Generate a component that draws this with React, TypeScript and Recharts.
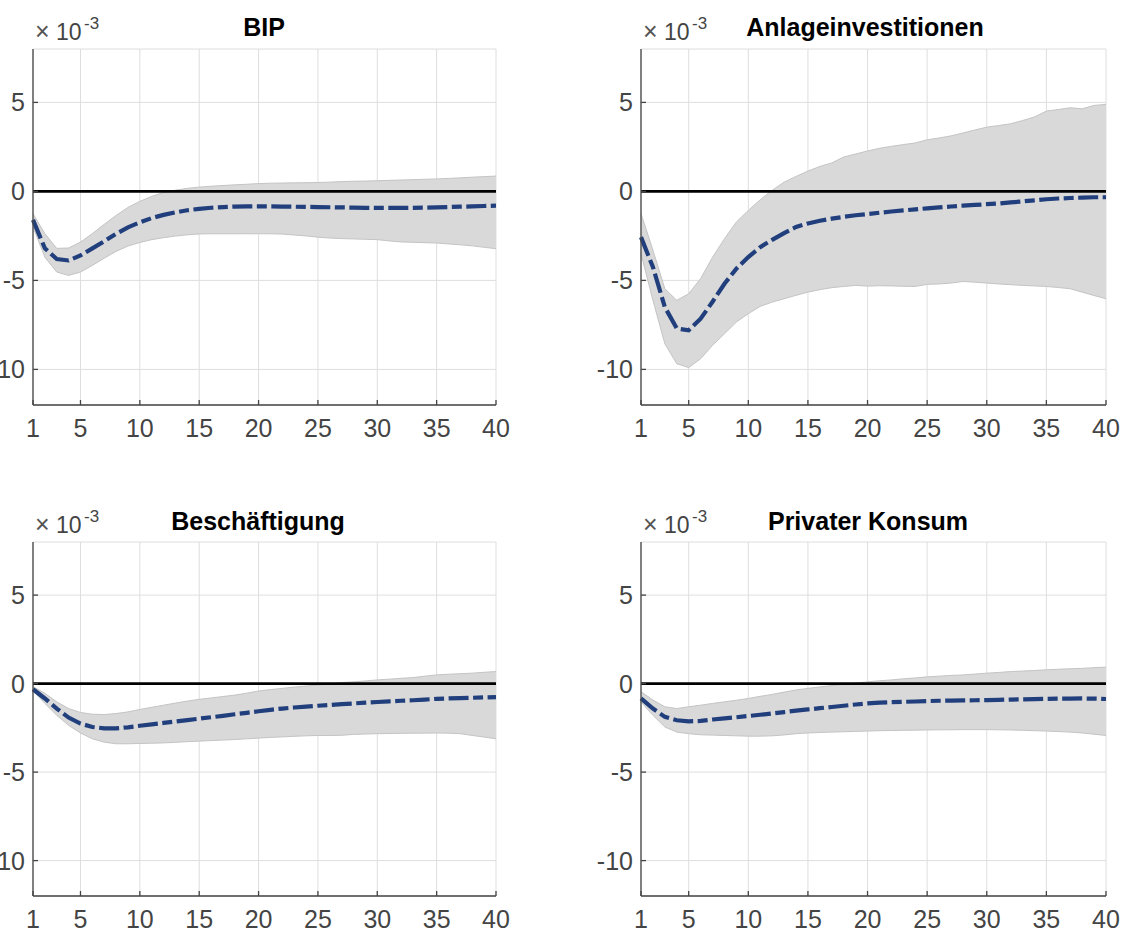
import React from "react";
import { ComposedChart, Area, Line, XAxis, YAxis, CartesianGrid, ReferenceLine } from "recharts";

// values in units of 1e-3
const periods = [
  1, 2, 3, 4, 5, 6, 7, 8, 9, 10, 11, 12, 13, 14, 15, 16, 17, 18, 19, 20,
  21, 22, 23, 24, 25, 26, 27, 28, 29, 30, 31, 32, 33, 34, 35, 36, 37, 38, 39, 40,
];
const xTicks = [1, 5, 10, 15, 20, 25, 30, 35, 40];
const yTicks = [-10, -5, 0, 5];

const bipMean = [
  -1.6, -3.2, -3.8, -3.88, -3.6, -3.2, -2.8, -2.38, -2.02, -1.74, -1.5, -1.32, -1.18, -1.06, -0.98, -0.92, -0.88, -0.85, -0.84, -0.84,
  -0.84, -0.85, -0.86, -0.87, -0.88, -0.89, -0.9, -0.91, -0.92, -0.93, -0.93, -0.93, -0.92, -0.91, -0.9, -0.88, -0.86, -0.84, -0.82, -0.8,
];
const bipHi = [
  -1.25, -2.37, -3.2, -3.18, -2.85, -2.37, -1.85, -1.35, -0.9, -0.56, -0.28, -0.06, 0.07, 0.17, 0.24, 0.29, 0.33, 0.37, 0.4, 0.44,
  0.46, 0.47, 0.48, 0.49, 0.5, 0.52, 0.55, 0.57, 0.58, 0.6, 0.62, 0.64, 0.66, 0.68, 0.7, 0.73, 0.76, 0.8, 0.83, 0.86,
];
const bipLo = [
  -2.0, -3.7, -4.53, -4.72, -4.53, -4.16, -3.75, -3.37, -3.07, -2.87, -2.71, -2.6, -2.51, -2.44, -2.39, -2.38, -2.38, -2.38, -2.38, -2.38,
  -2.38, -2.4, -2.45, -2.5, -2.57, -2.62, -2.65, -2.67, -2.69, -2.71, -2.78, -2.84, -2.86, -2.88, -2.9, -2.95, -3.0, -3.06, -3.14, -3.22,
];

const anlMean = [
  -2.57, -4.25, -6.5, -7.7, -7.8, -7.15, -6.2, -5.19, -4.34, -3.69, -3.13, -2.72, -2.34, -2.0, -1.8, -1.65, -1.53, -1.43, -1.34, -1.27,
  -1.2, -1.13, -1.07, -1.01, -0.95, -0.9, -0.85, -0.8, -0.76, -0.72, -0.68, -0.62, -0.56, -0.5, -0.44, -0.4, -0.37, -0.35, -0.33, -0.33,
];
const anlHi = [
  -1.25, -3.3, -5.47, -6.12, -5.75, -4.9, -3.7, -2.66, -1.72, -1.07, -0.47, 0.06, 0.52, 0.84, 1.14, 1.4, 1.6, 1.93, 2.1, 2.27,
  2.42, 2.53, 2.63, 2.72, 2.9, 3.0, 3.12, 3.28, 3.45, 3.61, 3.7, 3.8, 3.98, 4.18, 4.51, 4.6, 4.7, 4.64, 4.83, 4.89,
];
const anlLo = [
  -3.5, -6.12, -8.56, -9.68, -9.9, -9.4, -8.65, -8.0, -7.34, -6.87, -6.46, -6.22, -6.03, -5.84, -5.66, -5.52, -5.41, -5.34, -5.28, -5.32,
  -5.3, -5.31, -5.33, -5.34, -5.22, -5.2, -5.15, -5.06, -5.1, -5.15, -5.2, -5.24, -5.28, -5.31, -5.34, -5.4, -5.47, -5.66, -5.85, -6.03,
];

const besMean = [
  -0.32, -0.84, -1.41, -1.92, -2.26, -2.45, -2.53, -2.53, -2.47, -2.38, -2.3, -2.22, -2.14, -2.06, -1.98, -1.9, -1.82, -1.73, -1.65, -1.56,
  -1.48, -1.41, -1.35, -1.3, -1.25, -1.21, -1.16, -1.12, -1.08, -1.04, -1.0, -0.97, -0.94, -0.9, -0.86, -0.84, -0.82, -0.8, -0.78, -0.76,
];
const besHi = [
  -0.17, -0.55, -1.03, -1.41, -1.63, -1.73, -1.75, -1.69, -1.6, -1.46, -1.34, -1.22, -1.1, -0.99, -0.89, -0.81, -0.73, -0.65, -0.54, -0.42,
  -0.34, -0.27, -0.2, -0.14, -0.08, -0.02, 0.06, 0.1, 0.15, 0.21, 0.25, 0.3, 0.34, 0.42, 0.49, 0.53, 0.56, 0.59, 0.64, 0.68,
];
const besLo = [
  -0.4, -1.12, -1.79, -2.36, -2.79, -3.12, -3.31, -3.4, -3.4, -3.38, -3.37, -3.35, -3.32, -3.28, -3.25, -3.22, -3.19, -3.16, -3.12, -3.08,
  -3.04, -3.01, -2.98, -2.95, -2.93, -2.93, -2.92, -2.87, -2.85, -2.83, -2.82, -2.81, -2.8, -2.8, -2.79, -2.8, -2.83, -2.93, -3.02, -3.12,
];

const konMean = [
  -0.84, -1.41, -1.88, -2.07, -2.13, -2.11, -2.03, -1.96, -1.9, -1.83, -1.76, -1.69, -1.61, -1.53, -1.46, -1.39, -1.32, -1.25, -1.18, -1.12,
  -1.08, -1.05, -1.03, -1.01, -0.99, -0.97, -0.96, -0.95, -0.94, -0.93, -0.92, -0.9, -0.89, -0.88, -0.86, -0.85, -0.85, -0.84, -0.85, -0.87,
];
const konHi = [
  -0.46, -0.93, -1.31, -1.41, -1.31, -1.22, -1.12, -1.03, -0.94, -0.84, -0.72, -0.61, -0.48, -0.36, -0.27, -0.19, -0.11, -0.04, 0.03, 0.1,
  0.16, 0.21, 0.27, 0.32, 0.38, 0.42, 0.46, 0.49, 0.54, 0.59, 0.63, 0.68, 0.71, 0.74, 0.78, 0.81, 0.84, 0.86, 0.9, 0.93,
];
const konLo = [
  -1.03, -1.79, -2.45, -2.74, -2.83, -2.89, -2.91, -2.93, -2.95, -2.97, -2.97, -2.95, -2.9, -2.83, -2.79, -2.76, -2.74, -2.72, -2.7, -2.68,
  -2.66, -2.65, -2.64, -2.63, -2.62, -2.61, -2.61, -2.6, -2.6, -2.6, -2.61, -2.62, -2.64, -2.66, -2.68, -2.71, -2.74, -2.79, -2.86, -2.93,
];

const AXIS = "#444444";
const FONT = "'Liberation Sans', Arial, Helvetica, sans-serif";
const Y_W = 60;
const TOP_PAD = 10;
const X_H = 45;

function buildRows(mean: number[], lo: number[], hi: number[]) {
  return periods.map((t, i) => ({ t, mean: mean[i], band: [lo[i], hi[i]] }));
}

type PanelProps = {
  title: string;
  titleX: number;
  titleY: number;
  mean: number[];
  lo: number[];
  hi: number[];
  left: number; // plot area left
  top: number; // plot area top
  plotW: number;
  plotH: number;
};

function Panel({ title, titleX, titleY, mean, lo, hi, left, top, plotW, plotH }: PanelProps) {
  const rows = buildRows(mean, lo, hi);
  const axisY = TOP_PAD + plotH;
  const width = plotW + Y_W + 20;
  const height = TOP_PAD + plotH + X_H;

  const xTick = (p: any) => (
    <g>
      <line x1={p.x} x2={p.x} y1={axisY} y2={axisY - 5} stroke={AXIS} strokeWidth={1.3} />
      <text x={p.x} y={axisY + 31.5} textAnchor="middle" fontSize={25} fill={AXIS}>
        {p.payload.value}
      </text>
    </g>
  );
  const yTick = (p: any) => (
    <g>
      <line x1={Y_W} x2={Y_W + 5} y1={p.y} y2={p.y} stroke={AXIS} strokeWidth={1.3} />
      <text x={Y_W - 8} y={p.y} dy="0.36em" textAnchor="end" fontSize={25} fill={AXIS}>
        {p.payload.value}
      </text>
    </g>
  );

  return (
    <>
      <div style={{ position: "absolute", left: left - Y_W, top: top - TOP_PAD }}>
        <ComposedChart
          width={width}
          height={height}
          data={rows}
          margin={{ top: TOP_PAD, right: 20, bottom: 0, left: 0 }}
        >
          <CartesianGrid stroke="#dedede" strokeWidth={1} />
          <XAxis
            dataKey="t"
            type="number"
            domain={[1, 40]}
            ticks={xTicks}
            interval={0}
            height={X_H}
            tickSize={0}
            tickMargin={0}
            tickLine={false}
            axisLine={{ stroke: AXIS, strokeWidth: 1.3 }}
            tick={xTick}
          />
          <YAxis
            type="number"
            domain={[-12, 8]}
            ticks={yTicks}
            interval={0}
            width={Y_W}
            tickSize={0}
            tickMargin={0}
            tickLine={false}
            axisLine={{ stroke: AXIS, strokeWidth: 1.3 }}
            tick={yTick}
          />
          <Area
            dataKey="band"
            type="linear"
            fill="#d9d9d9"
            fillOpacity={1}
            stroke="#c4c4c4"
            strokeWidth={1}
            isAnimationActive={false}
          />
          <ReferenceLine y={0} stroke="#000000" strokeWidth={2.6} />
          <Line
            dataKey="mean"
            type="linear"
            stroke="#213f7c"
            strokeWidth={4.2}
            strokeDasharray="20 4.5 10 4.5"
            dot={false}
            isAnimationActive={false}
          />
        </ComposedChart>
      </div>
      <svg
        width={plotW + 40}
        height={50}
        style={{ position: "absolute", left: left, top: top - 50, overflow: "visible" }}
      >
        <text x={titleX - left} y={titleY - (top - 50)} textAnchor="middle" fontSize={25} fontWeight="bold" fill="#000">
          {title}
        </text>
        <text x={2} y={50 - 9} fontSize={25} fill="#555555">
          ×
        </text>
        <text x={23} y={50 - 9} fontSize={23} fill={AXIS}>
          10
        </text>
        <text x={51} y={50 - 20} fontSize={17} fill={AXIS}>
          -3
        </text>
      </svg>
    </>
  );
}

export default function App() {
  return (
    <div
      style={{
        position: "absolute",
        left: 0,
        top: 0,
        width: 1123,
        height: 931,
        overflow: "hidden",
        background: "#ffffff",
        fontFamily: FONT,
      }}
    >
      <Panel title="BIP" titleX={264} titleY={36} mean={bipMean} lo={bipLo} hi={bipHi} left={33} top={49} plotW={463} plotH={356} />
      <Panel
        title="Anlageinvestitionen"
        titleX={865}
        titleY={36}
        mean={anlMean}
        lo={anlLo}
        hi={anlHi}
        left={641}
        top={49}
        plotW={465}
        plotH={356}
      />
      <Panel
        title="Beschäftigung"
        titleX={258}
        titleY={530}
        mean={besMean}
        lo={besLo}
        hi={besHi}
        left={33}
        top={542}
        plotW={463}
        plotH={354}
      />
      <Panel
        title="Privater Konsum"
        titleX={868}
        titleY={530}
        mean={konMean}
        lo={konLo}
        hi={konHi}
        left={641}
        top={542}
        plotW={465}
        plotH={354}
      />
    </div>
  );
}
